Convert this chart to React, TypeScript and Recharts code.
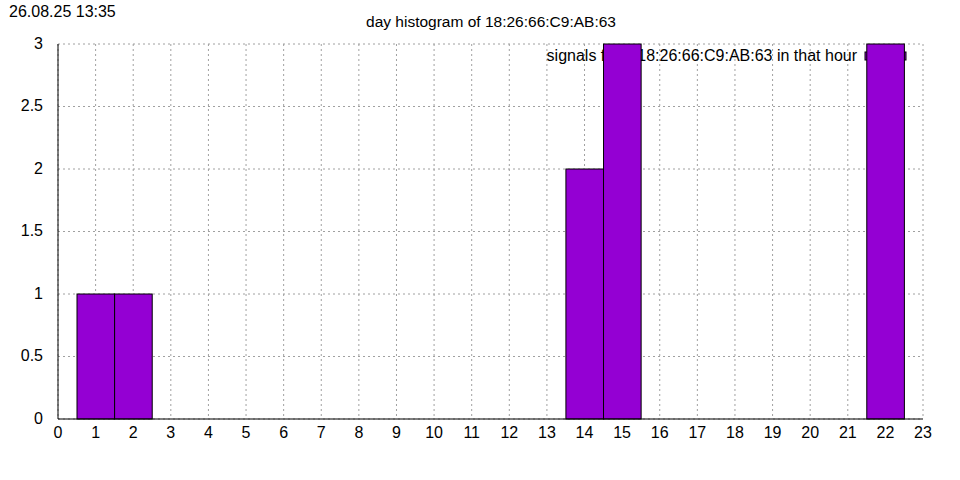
import React from "react";
import {
  ComposedChart,
  Bar,
  XAxis,
  YAxis,
  CartesianGrid,
} from "recharts";

// hours that had signals, and how many in each
const hours = [1, 2, 14, 15, 22];
const counts = [1, 1, 2, 3, 3];

const xTicks = Array.from({ length: 24 }, (_, i) => i);
const yTicks = [0, 0.5, 1, 1.5, 2, 2.5, 3];

const title = "day histogram of 18:26:66:C9:AB:63";
const stamp = "26.08.25 13:35";
const seriesName = "signals from 18:26:66:C9:AB:63 in that hour";

const FONT = '"Liberation Sans", Arial, sans-serif';
const BAR_COLOR = "#9400d3";
const PLOT_W = 865;
const BIN_W = PLOT_W / 23; // one hour wide, boxes touch

const data = hours.map((h, i) => ({ hour: h, count: counts[i] }));

// full-width histogram box centred on the hour
const HistBox = (props: any) => {
  const { x, y, width, height } = props;
  if (!height) return null;
  const cx = x + width / 2;
  return (
    <rect
      x={cx - BIN_W / 2}
      y={y}
      width={BIN_W}
      height={height}
      fill={BAR_COLOR}
      stroke="#000"
      strokeWidth={1}
    />
  );
};

export default function App() {
  return (
    <div
      style={{
        position: "absolute",
        left: 0,
        top: 0,
        width: 960,
        height: 480,
        background: "#fff",
        fontFamily: FONT,
      }}
    >
      <div style={{ position: "absolute", left: 9, top: 3, fontSize: 16 }}>
        {stamp}
      </div>
      <div
        style={{
          position: "absolute",
          left: 0,
          width: 982,
          top: 13,
          textAlign: "center",
          fontSize: 15.5,
        }}
      >
        {title}
      </div>
      <ComposedChart
        width={960}
        height={480}
        data={data}
        margin={{ top: 44, right: 37, left: 0, bottom: 0 }}
        barCategoryGap={0}
        style={{ position: "absolute", left: 0, top: 0 }}
      >
        <CartesianGrid
          xAxisId="bottom"
          yAxisId="left"
          stroke="#a0a0a0"
          strokeDasharray="2 3"
          horizontalValues={yTicks}
          verticalValues={xTicks}
        />
        {/* legend sits under the bars, like gnuplot draws it */}
        <text
          x={857}
          y={61}
          textAnchor="end"
          fontSize={16}
          fontFamily={FONT}
          fill="#000"
        >
          {seriesName}
        </text>
        <rect x={865} y={52} width={41} height={8} fill={BAR_COLOR} stroke="#000" />

        {/* inward tick marks on all four sides */}
        <XAxis
          xAxisId="bottomTicks"
          type="number"
          dataKey="hour"
          domain={[0, 23]}
          ticks={xTicks}
          interval={0}
          height={0}
          mirror
          tickSize={6}
          stroke="#000"
          tick={{ fill: "none" }}
          allowDataOverflow
        />
        <XAxis
          xAxisId="bottom"
          dataKey="hour"
          type="number"
          domain={[0, 23]}
          ticks={xTicks}
          interval={0}
          height={61}
          tickLine={false}
          tickMargin={2}
          stroke="#000"
          tick={{ fill: "#000", fontSize: 16, fontFamily: FONT }}
          allowDataOverflow
        />
        <XAxis
          xAxisId="top"
          orientation="top"
          dataKey="hour"
          type="number"
          domain={[0, 23]}
          ticks={xTicks}
          interval={0}
          height={0}
          mirror
          tickSize={6}
          stroke="#000"
          tick={{ fill: "none" }}
          allowDataOverflow
        />
        <YAxis
          yAxisId="leftTicks"
          type="number"
          domain={[0, 3]}
          ticks={yTicks}
          interval={0}
          width={0}
          mirror
          tickSize={6}
          stroke="#000"
          tick={{ fill: "none" }}
        />
        <YAxis
          yAxisId="left"
          type="number"
          domain={[0, 3]}
          ticks={yTicks}
          interval={0}
          width={58}
          tickLine={false}
          tickMargin={9}
          stroke="#000"
          tick={{ fill: "#000", fontSize: 16, fontFamily: FONT, dy: -1 }}
        />
        <YAxis
          yAxisId="right"
          orientation="right"
          type="number"
          domain={[0, 3]}
          ticks={yTicks}
          interval={0}
          width={0}
          mirror
          tickSize={6}
          stroke="#000"
          tick={{ fill: "none" }}
        />
        <Bar
          xAxisId="bottom"
          yAxisId="left"
          dataKey="count"
          fill={BAR_COLOR}
          shape={HistBox}
          isAnimationActive={false}
        />
      </ComposedChart>
    </div>
  );
}
